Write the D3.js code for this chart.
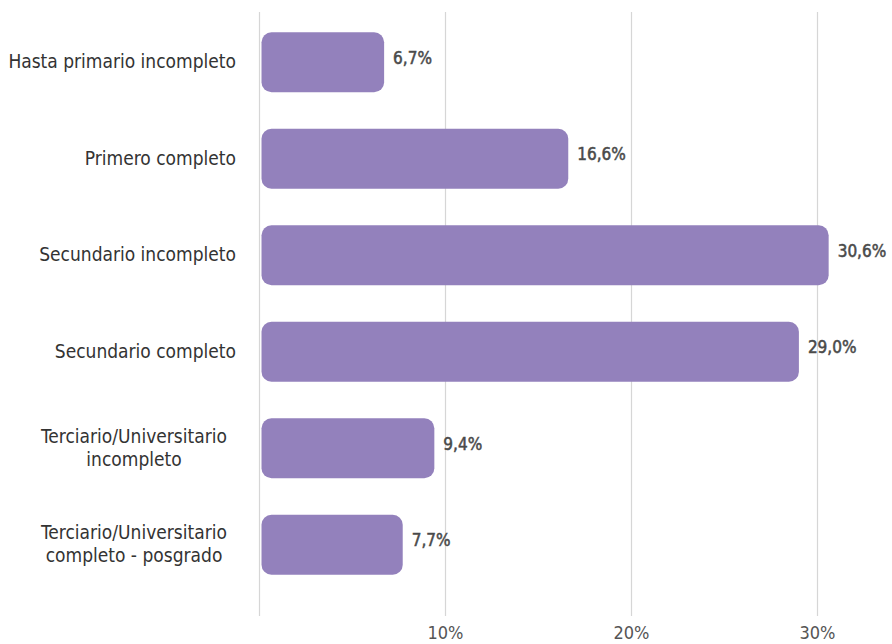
<!DOCTYPE html>
<html><head><meta charset="utf-8">
<script src="https://cdn.jsdelivr.net/npm/d3@7"></script>
<style>
body{margin:0;background:#fff;}
svg{display:block;font-family:"DejaVu Sans Condensed","Liberation Sans Narrow","Roboto",sans-serif;}
</style></head>
<body>
<svg id="chart" width="892" height="644"></svg>
<script>
const categories = [
  ["Hasta primario incompleto"],
  ["Primero completo"],
  ["Secundario incompleto"],
  ["Secundario completo"],
  ["Terciario/Universitario","incompleto"],
  ["Terciario/Universitario","completo - posgrado"]
];
const values = [6.7, 16.6, 30.6, 29.0, 9.4, 7.7];
const valueLabels = ["6,7%","16,6%","30,6%","29,0%","9,4%","7,7%"];
const tickValues = [10, 20, 30];
const tickLabels = ["10%","20%","30%"];

const svg = d3.select("#chart");
const x = d3.scaleLinear().domain([0, 30]).range([259.5, 817.5]);
const y = d3.scaleBand().domain(d3.range(categories.length)).range([14, 593]).paddingInner(0.38).paddingOuter(0.19);

// gridlines
svg.append("g").selectAll("line").data([0, ...tickValues]).join("line")
  .attr("x1", d => x(d)).attr("x2", d => x(d))
  .attr("y1", 12).attr("y2", 616)
  .attr("stroke", "#d6d6d6").attr("stroke-width", 1.2);

// tick labels
svg.append("g").selectAll("text").data(tickValues).join("text")
  .attr("x", d => x(d)).attr("y", 639)
  .attr("text-anchor", "middle")
  .attr("font-size", 18).attr("fill", "#555")
  .text((d, i) => tickLabels[i]);

// bars
svg.append("g").selectAll("rect").data(values).join("rect")
  .attr("x", x(0) + 2).attr("y", (d, i) => y(i))
  .attr("width", d => x(d) - x(0) - 2)
  .attr("height", y.bandwidth())
  .attr("rx", 10).attr("ry", 10)
  .attr("fill", "#9381bc");

// value labels
svg.append("g").selectAll("text").data(values).join("text")
  .attr("x", d => x(d) + 9)
  .attr("y", (d, i) => y(i) + y.bandwidth() / 2)
  .attr("dy", "0.1em")
  .attr("font-size", 17).attr("fill", "#4a4a4a")
  .attr("stroke", "#4a4a4a").attr("stroke-width", 0.5)
  .text((d, i) => valueLabels[i]);

// category labels
const cg = svg.append("g");
categories.forEach((lines, i) => {
  const cy = y(i) + y.bandwidth() / 2;
  const t = cg.append("text")
    .attr("font-size", 19).attr("fill", "#333");
  const lh = 23;
  lines.forEach((ln, j) => {
    t.append("tspan").attr("x", lines.length > 1 ? 134 : 236)
      .attr("text-anchor", lines.length > 1 ? "middle" : "end")
      .attr("y", cy + (j - (lines.length - 1) / 2) * lh + 6)
      .text(ln);
  });
});
</script>
</body></html>
